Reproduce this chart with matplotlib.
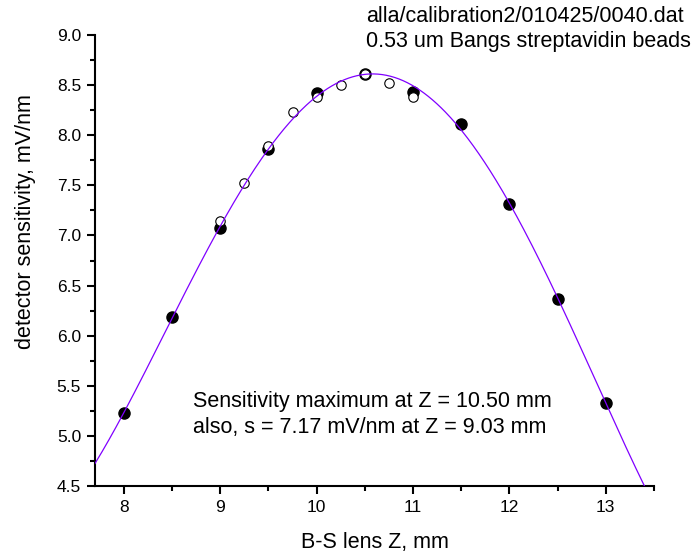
import numpy as np
import matplotlib
matplotlib.use("Agg")
import matplotlib.pyplot as plt
from matplotlib.ticker import MultipleLocator

plt.rcParams['font.family'] = ['Liberation Sans', 'DejaVu Sans']

# filled points (measured)
z_filled = [8.0, 8.5, 9.0, 9.5, 10.0, 10.5, 11.0, 11.5, 12.0, 12.5, 13.0]
s_filled = [5.23, 6.19, 7.07, 7.86, 8.42, 8.61, 8.43, 8.11, 7.31, 6.37, 5.33]

# open points
z_open = [9.0, 9.25, 9.5, 9.75, 10.0, 10.25, 10.5, 10.75, 11.0]
s_open = [7.14, 7.52, 7.89, 8.23, 8.38, 8.50, 8.61, 8.52, 8.38]

title_lines = ["alla/calibration2/010425/0040.dat", "0.53 um Bangs streptavidin beads"]
note_lines = ["Sensitivity maximum at Z = 10.50 mm", "also, s = 7.17 mV/nm at Z = 9.03 mm"]

W, H = 693, 552
fig = plt.figure(figsize=(W / 100, H / 100), dpi=100)
ax = fig.add_axes([95 / W, 1 - 486 / H, (654 - 95) / W, (486 - 35) / H])

# fit curve (polynomial fit to filled points)
coef = np.polyfit(z_filled, s_filled, 4)
zz = np.linspace(7.7, 13.5, 400)
ax.plot(z_filled, s_filled, 'o', color='black', ms=8, zorder=2)
ax.plot(z_open, s_open, 'o', mfc='white', mec='black', mew=0.8, ms=6.8, zorder=3)
ax.plot(zz, np.polyval(coef, zz), color='#8000ff', lw=0.9, zorder=4)

ax.set_xlim(7.7, 13.5)
ax.set_ylim(4.5, 9.0)
ax.xaxis.set_major_locator(MultipleLocator(1))
ax.xaxis.set_minor_locator(MultipleLocator(0.5))
ax.yaxis.set_major_locator(MultipleLocator(0.5))
ax.yaxis.set_minor_locator(MultipleLocator(0.25))
ax.yaxis.set_major_formatter(matplotlib.ticker.FormatStrFormatter('%.1f'))
for s in ['top', 'right']:
    ax.spines[s].set_visible(False)
for s in ['left', 'bottom']:
    ax.spines[s].set_linewidth(1.5)
ax.tick_params(which='major', direction='out', length=6, width=1.5, labelsize=12.5, pad=4)
ax.tick_params(which='minor', direction='out', length=3.5, width=1.5)

ax.set_xlabel("B-S lens Z, mm", fontsize=15.5, labelpad=12)
ax.set_ylabel("detector sensitivity, mV/nm", fontsize=15.5)
ax.yaxis.set_label_coords(-59 / (654 - 95), (486 - 222) / (486 - 35))

fig.text(366 / W, 1 - 17 / H, title_lines[0], fontsize=15.5, va='center', ha='left')
fig.text(366 / W, 1 - 42 / H, title_lines[1], fontsize=15.5, va='center', ha='left')
fig.text(193 / W, 1 - 401 / H, note_lines[0], fontsize=15.5, va='center', ha='left')
fig.text(193 / W, 1 - 427 / H, note_lines[1], fontsize=15.5, va='center', ha='left')

fig.savefig("out.png", dpi=100)
